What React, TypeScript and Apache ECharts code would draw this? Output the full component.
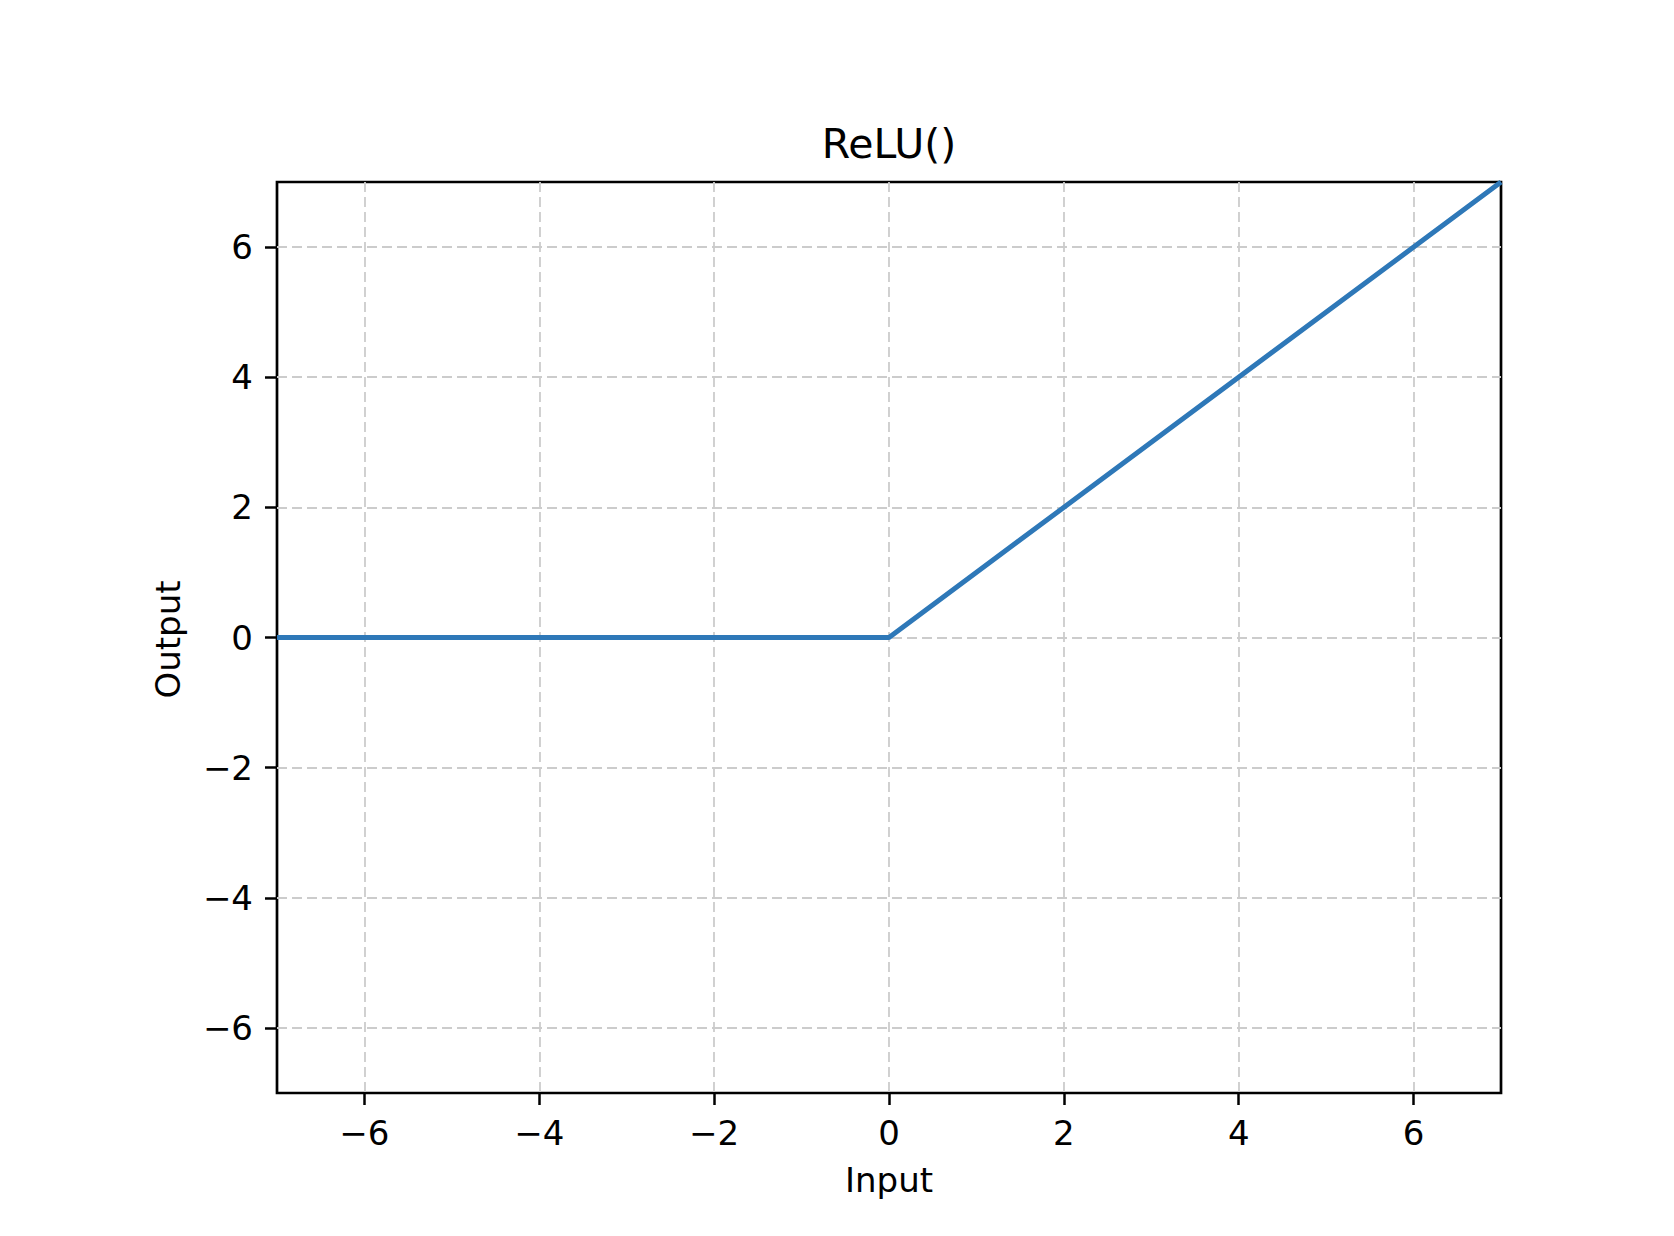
import React, { useEffect, useRef } from "react";
import * as echarts from "echarts";

const xValues = [-7, 0, 7];
const yValues = [0, 0, 7];
const xTicks = [-6, -4, -2, 0, 2, 4, 6];
const yTicks = [-6, -4, -2, 0, 2, 4, 6];
const titleText = "ReLU()";
const xLabel = "Input";
const yLabel = "Output";

const FONT = "'DejaVu Sans', sans-serif";
const fmt = (v: number) => (v < 0 ? "\u2212" + Math.abs(v) : String(v));

export default function App() {
  const ref = useRef<HTMLDivElement>(null);
  useEffect(() => {
    document.body.style.margin = "0";
    const chart = echarts.init(ref.current!, null, { renderer: "svg" });
    const L = 277, T = 182, R = 1501, B = 1093;
    const W = 1674, H = 1236;
    const cx = (L + R) / 2;
    const cy = (T + B) / 2;
    const splitLine = {
      show: true,
      lineStyle: { color: "#cccccc", width: 1.8, type: [10, 5] as any },
    };
    const tick = { show: true, inside: false, length: 12, lineStyle: { color: "#000", width: 2.5 } };
    chart.setOption({
      animation: false,
      backgroundColor: "#ffffff",
      grid: {
        left: L,
        top: T,
        right: W - R,
        bottom: H - B,
        show: true,
        borderColor: "#000",
        borderWidth: 2.7,
        backgroundColor: "transparent",
        containLabel: false,
        outerBoundsMode: "none",
      },
      xAxis: {
        type: "value",
        min: -7,
        max: 7,
        position: "bottom",
        axisLine: { show: false, onZero: false },
        axisTick: { ...tick, customValues: xTicks },
        axisLabel: {
          customValues: xTicks,
          formatter: fmt,
          margin: 23,
          fontSize: 34,
          fontFamily: FONT,
          color: "#000",
        },
        splitLine,
      },
      yAxis: {
        type: "value",
        min: -7,
        max: 7,
        position: "left",
        axisLine: { show: false, onZero: false },
        axisTick: { ...tick, customValues: yTicks },
        axisLabel: {
          customValues: yTicks,
          formatter: fmt,
          margin: 24,
          fontSize: 34,
          fontFamily: FONT,
          color: "#000",
        },
        splitLine,
      },
      graphic: [
        {
          type: "text",
          x: cx,
          y: 144,
          style: {
            text: titleText,
            fontSize: 41,
            fontFamily: FONT,
            fill: "#000",
            align: "center",
            verticalAlign: "middle",
          },
        },
        {
          type: "text",
          x: cx,
          y: 1180,
          style: {
            text: xLabel,
            fontSize: 34,
            fontFamily: FONT,
            fill: "#000",
            align: "center",
            verticalAlign: "middle",
          },
        },
        {
          type: "text",
          x: 168,
          y: cy + 2,
          rotation: Math.PI / 2,
          style: {
            text: yLabel,
            fontSize: 34,
            fontFamily: FONT,
            fill: "#000",
            align: "center",
            verticalAlign: "middle",
          },
        },
      ],
      series: [
        {
          type: "line",
          data: xValues.map((x, i) => [x, yValues[i]]),
          showSymbol: false,
          symbol: "none",
          lineStyle: { color: "#2e78b8", width: 5 },
          clip: true,
          z: 3,
        },
      ],
    });
    return () => chart.dispose();
  }, []);
  return <div ref={ref} style={{ width: 1674, height: 1236 }} />;
}
